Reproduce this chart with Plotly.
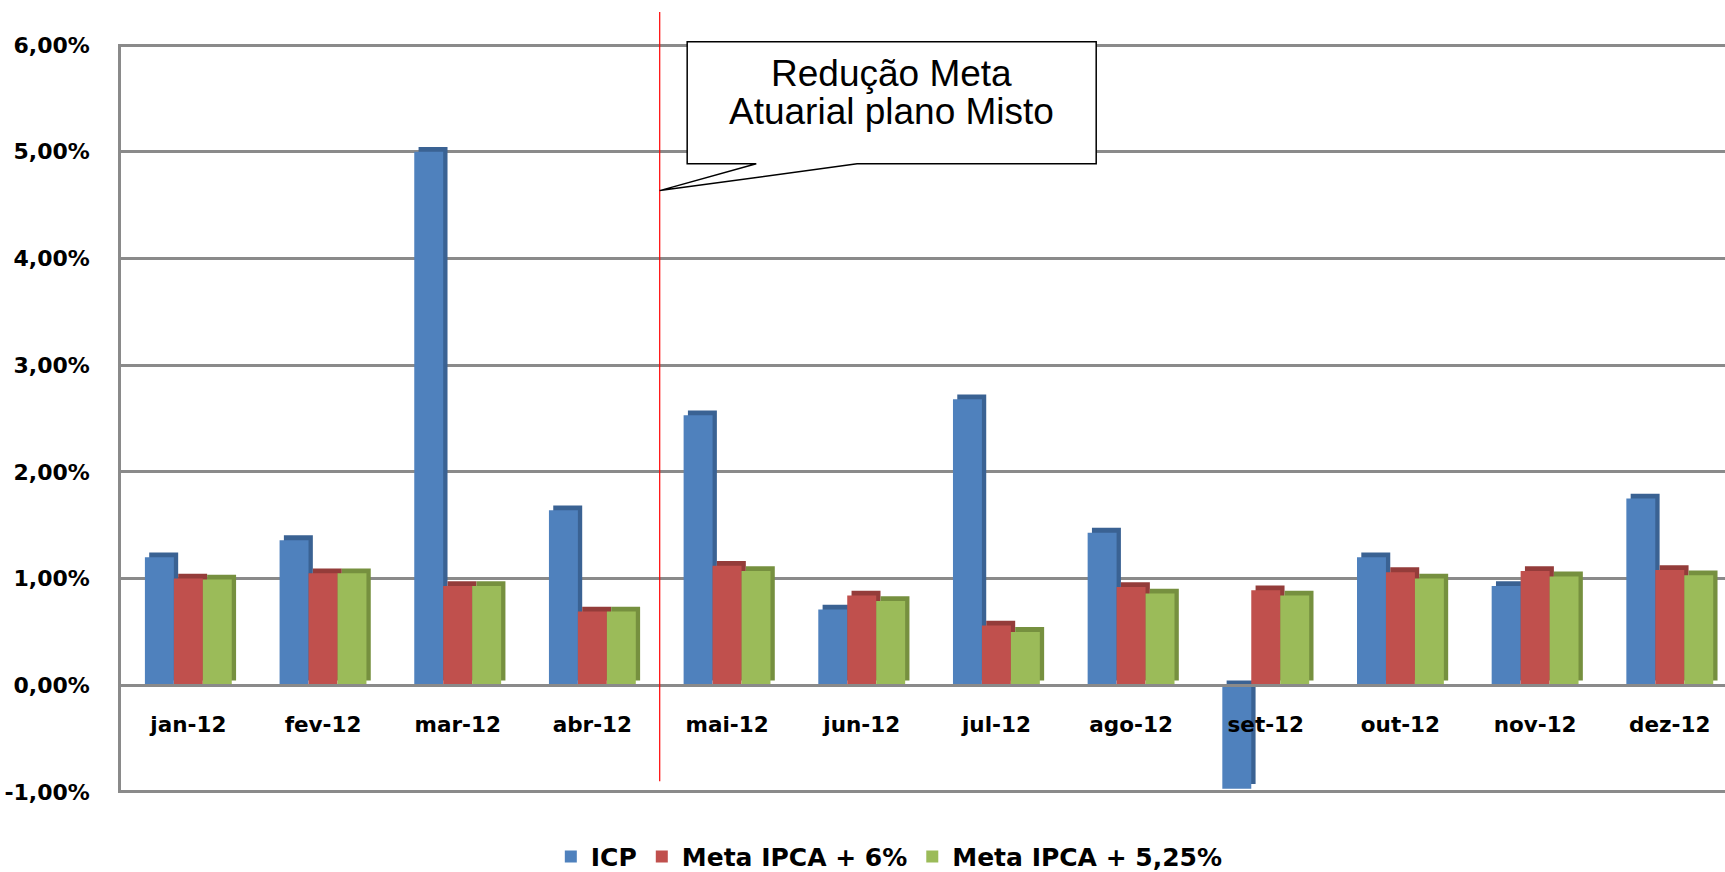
import plotly.graph_objects as go

months = ["jan-12", "fev-12", "mar-12", "abr-12", "mai-12", "jun-12",
          "jul-12", "ago-12", "set-12", "out-12", "nov-12", "dez-12"]
icp = [1.20, 1.36, 5.00, 1.64, 2.53, 0.71, 2.68, 1.43, -0.97, 1.20, 0.93, 1.75]
meta_ipca_6 = [1.00, 1.05, 0.93, 0.69, 1.12, 0.84, 0.56, 0.92, 0.89, 1.06, 1.07, 1.08]
meta_ipca_525 = [0.99, 1.05, 0.93, 0.69, 1.07, 0.79, 0.50, 0.86, 0.84, 1.00, 1.02, 1.03]
series_names = ["ICP", "Meta IPCA + 6%", "Meta IPCA + 5,25%"]
series_colors = ["#4F81BD", "#C0504D", "#9BBB59"]
side_colors = ["#3A6293", "#943C3A", "#76903F"]
y_tick_vals = [-1, 0, 1, 2, 3, 4, 5, 6]
y_tick_text = ["-1,00%", "0,00%", "1,00%", "2,00%", "3,00%", "4,00%", "5,00%", "6,00%"]
callout_lines = ["Redução Meta", "Atuarial plano Misto"]

X_RANGE = [-0.5, 11.41]
Y_RANGE = [-1.01, 6.01]
BAR_W = 0.215
SIDE_W = 0.032
LIFT = 0.045

xpos = list(range(len(months)))
all_series = [icp, meta_ipca_6, meta_ipca_525]
fig = go.Figure()
# darker extrusion (top + side faces) drawn behind the front faces
for k, (vals, col) in enumerate(zip(all_series, side_colors)):
    start = -1.5 * BAR_W + k * BAR_W + SIDE_W
    fig.add_trace(go.Bar(x=xpos, y=vals, base=[LIFT] * len(vals),
                         width=BAR_W, offset=start, marker=dict(color=col, line=dict(width=0)),
                         showlegend=False, hoverinfo="skip"))
for k, (name, vals, col) in enumerate(zip(series_names, all_series, series_colors)):
    start = -1.5 * BAR_W + k * BAR_W
    fig.add_trace(go.Bar(x=xpos, y=vals, name=name, width=BAR_W, offset=start,
                         marker=dict(color=col, line=dict(width=0))))

GRID = "#8a8a8a"
font_y = dict(family="DejaVu Sans", size=22, color="black", weight="bold")
font_x = dict(family="DejaVu Sans", size=21.5, color="black", weight="bold")

fig.update_layout(
    width=1725, height=872,
    margin=dict(l=121, r=0, t=44, b=79, autoexpand=False),
    paper_bgcolor="white", plot_bgcolor="white",
    barmode="overlay",
    showlegend=True,
    legend=dict(orientation="h", x=0.479, xanchor="center", y=-0.085, yanchor="middle",
                font=dict(family="DejaVu Sans", size=25, color="black", weight="bold"),
                itemwidth=30, traceorder="normal"),
    xaxis=dict(range=X_RANGE, tickvals=xpos, ticktext=months, showgrid=False, automargin=False,
               anchor="free", position=(0 - Y_RANGE[0]) / (Y_RANGE[1] - Y_RANGE[0]),
               showline=True, linecolor=GRID, linewidth=2.5,
               ticks="", ticklabelstandoff=19, tickfont=font_x, zeroline=False),
    yaxis=dict(range=Y_RANGE, tickvals=y_tick_vals, ticktext=y_tick_text, showgrid=True,
               automargin=False, gridcolor=GRID, gridwidth=2.5, zeroline=False, showline=True,
               linecolor=GRID, linewidth=2.5, ticks="", ticklabelstandoff=24,
               tickfont=font_y),
)


def px(x):
    return (x - X_RANGE[0]) / (X_RANGE[1] - X_RANGE[0])


def py(y):
    return (y - Y_RANGE[0]) / (Y_RANGE[1] - Y_RANGE[0])


# red divider between abr-12 and mai-12
fig.add_shape(type="line", x0=px(3.5), x1=px(3.5), y0=py(6.31), y1=py(-0.90),
              xref="paper", yref="paper", line=dict(color="#FF0000", width=1.2), layer="above")

# callout box with pointer (data-unit corners converted to paper)
box = [(3.704, 6.03), (6.741, 6.03), (6.741, 4.888), (4.966, 4.888), (3.5, 4.636),
       (4.217, 4.888), (3.704, 4.888)]
path = "M " + " L ".join(f"{px(a):.5f},{py(b):.5f}" for a, b in box) + " Z"
fig.add_shape(type="path", path=path, xref="paper", yref="paper",
              fillcolor="white", line=dict(color="black", width=1.5), layer="above")
for i, line in enumerate(callout_lines):
    fig.add_annotation(x=px(5.222), y=py(5.73 - i * 0.355), xref="paper", yref="paper", text=line,
                       showarrow=False, xanchor="center", yanchor="middle",
                       font=dict(family="Liberation Sans", size=37, color="black"))

fig.write_html("out.html", config={"displayModeBar": False},
               post_script="document.body.style.margin='0';document.body.style.overflow='hidden';")
